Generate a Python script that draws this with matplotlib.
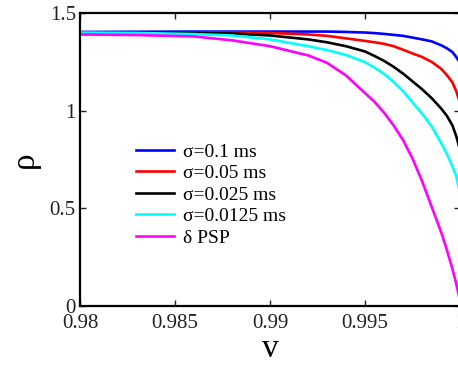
import matplotlib
matplotlib.use('Agg')
import matplotlib.pyplot as plt

v = [0.98, 0.983, 0.986, 0.988, 0.990, 0.992, 0.993, 0.994, 0.995, 0.9955,
     0.996, 0.9965, 0.997, 0.9975, 0.998, 0.9985, 0.999, 0.9993, 0.9996,
     0.9998, 1.0]

rho_01 = [1.403, 1.404, 1.405, 1.405, 1.405, 1.405, 1.405, 1.403, 1.400, 1.397,
          1.393, 1.388, 1.383, 1.374, 1.365, 1.355, 1.335, 1.320, 1.300,
          1.275, 1.245]
rho_005 = [1.400, 1.401, 1.401, 1.400, 1.398, 1.390, 1.383, 1.370, 1.357, 1.350,
           1.342, 1.330, 1.312, 1.293, 1.275, 1.250, 1.215, 1.183, 1.145,
           1.100, 1.040]
rho_0025 = [1.400, 1.400, 1.398, 1.395, 1.385, 1.365, 1.350, 1.330, 1.303, 1.280,
            1.255, 1.225, 1.190, 1.150, 1.110, 1.065, 1.012, 0.975, 0.925,
            0.870, 0.800]
rho_00125 = [1.400, 1.398, 1.392, 1.385, 1.365, 1.330, 1.310, 1.285, 1.248, 1.220,
             1.188, 1.147, 1.100, 1.042, 0.985, 0.920, 0.835, 0.780, 0.715,
             0.665, 0.580]
rho_delta = [1.390, 1.387, 1.380, 1.360, 1.330, 1.283, 1.245, 1.180, 1.090, 1.045,
             0.990, 0.925, 0.850, 0.755, 0.640, 0.510, 0.380, 0.290, 0.190,
             0.115, 0.025]

labels = ['σ=0.1 ms', 'σ=0.05 ms', 'σ=0.025 ms', 'σ=0.0125 ms', 'δ PSP']
colors = ['#0000ff', '#ff0000', '#000000', '#00ffff', '#ff00ff']

plt.rcParams['font.family'] = ['Liberation Serif', 'DejaVu Serif']

fig = plt.figure(figsize=(4.58, 3.65), dpi=100)
ax = fig.add_axes([80 / 458., 59 / 365., 380 / 458., 293 / 365.])

for y, c, lab in zip([rho_01, rho_005, rho_0025, rho_00125, rho_delta], colors, labels):
    ax.plot(v, y, color=c, lw=1.9, label=lab)

ax.set_xlim(0.98, 1.0)
ax.set_ylim(0, 1.5)
ax.set_xticks([0.98, 0.985, 0.99, 0.995, 1.0])
ax.set_xticklabels(['0.98', '0.985', '0.99', '0.995', '1'])
ax.set_yticks([0, 0.5, 1, 1.5])
ax.set_yticklabels(['0', '0.5', '1', '1.5'])
ax.tick_params(direction='in', length=4, width=1, labelsize=15, pad=3,
               top=True, right=True, colors='#222222')
ax.tick_params(axis='x', pad=6)
for s in ax.spines.values():
    s.set_linewidth(1.6)

ax.set_xlabel('v', fontsize=24, labelpad=0)
ax.set_ylabel('ρ', fontsize=24, labelpad=7)

ax.legend(loc='upper left', bbox_to_anchor=(136 / 458., 1 - 143 / 365.),
          bbox_transform=fig.transFigure, frameon=False, fontsize=14,
          handlelength=1.95, handletextpad=0.45, labelspacing=0.2,
          borderpad=0, borderaxespad=0)

fig.savefig('out.png', dpi=100)
